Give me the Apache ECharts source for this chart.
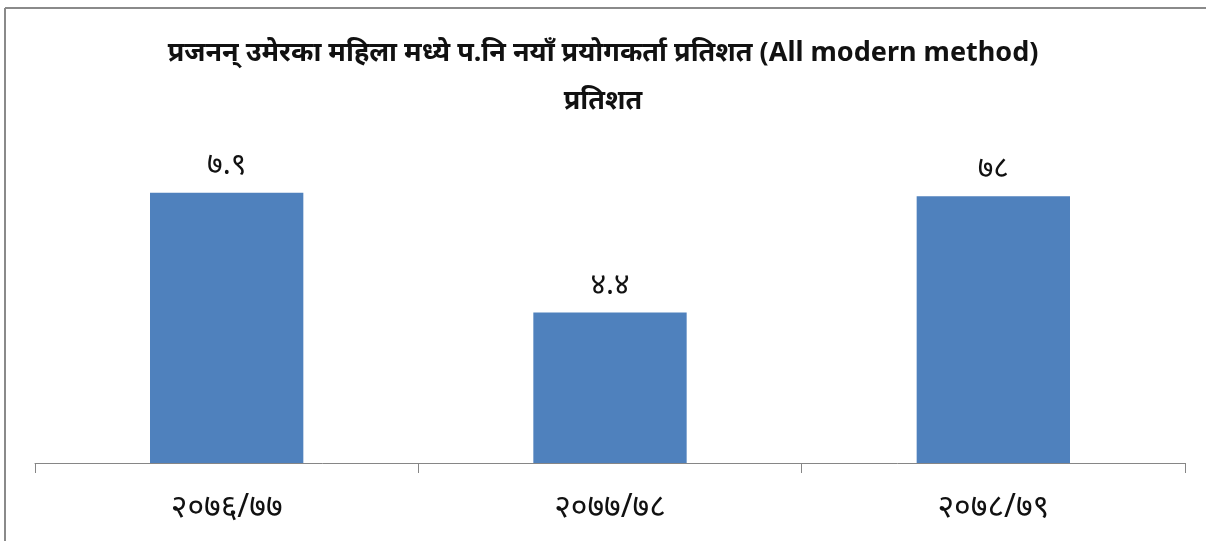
<!DOCTYPE html>
<html>
<head>
<meta charset="utf-8">
<script src="https://cdn.jsdelivr.net/npm/echarts@6/dist/echarts.min.js"></script>
<style>
html,body{margin:0;padding:0;background:#fff;}
#chart{width:1206px;height:541px;}
</style>
</head>
<body>
<div id="chart"></div>
<script>
const titleLine1 = 'प्रजनन् उमेरका महिला मध्ये प.नि नयाँ प्रयोगकर्ता प्रतिशत (All modern method)';
const titleLine2 = 'प्रतिशत';
const categories = ['२०७६/७७', '२०७७/७८', '२०७८/७९'];
const values = [7.9, 4.4, 7.8];
const valueLabels = ['७.९', '४.४', '७८'];

const chart = echarts.init(document.getElementById('chart'));
chart.setOption({
  animation: false,
  backgroundColor: '#ffffff',
  title: {
    text: titleLine1 + '\n' + titleLine2,
    left: 'center',
    top: 24,
    textStyle: {
      fontSize: 27,
      fontWeight: 'bold',
      color: '#111',
      lineHeight: 48,
      fontFamily: '"Noto Sans", "DejaVu Sans", sans-serif'
    }
  },
  graphic: [
    { type: 'line', shape: { x1: 5, y1: 8, x2: 1206, y2: 8 }, style: { stroke: '#8a8a8a', lineWidth: 2 } },
    { type: 'line', shape: { x1: 5, y1: 8, x2: 5, y2: 541 }, style: { stroke: '#8a8a8a', lineWidth: 2 } }
  ],
  grid: { left: 35, right: 21, top: 121, bottom: 78 },
  xAxis: {
    type: 'category',
    data: categories,
    axisLine: { lineStyle: { color: '#868686', width: 1 } },
    axisTick: { show: true, length: 10, lineStyle: { color: '#868686' } },
    axisLabel: {
      fontSize: 32,
      color: '#111',
      margin: 29,
      fontFamily: '"Noto Sans", "DejaVu Sans", sans-serif'
    }
  },
  yAxis: {
    type: 'value',
    min: 0,
    max: 10,
    show: false,
    splitLine: { show: false }
  },
  series: [{
    type: 'bar',
    data: values,
    barWidth: '40%',
    itemStyle: { color: '#4f81bd' },
    label: {
      show: true,
      position: 'top',
      distance: 12,
      fontSize: 30,
      color: '#111',
      fontFamily: '"Noto Sans", "DejaVu Sans", sans-serif',
      formatter: p => valueLabels[p.dataIndex]
    }
  }]
});
</script>
</body>
</html>
